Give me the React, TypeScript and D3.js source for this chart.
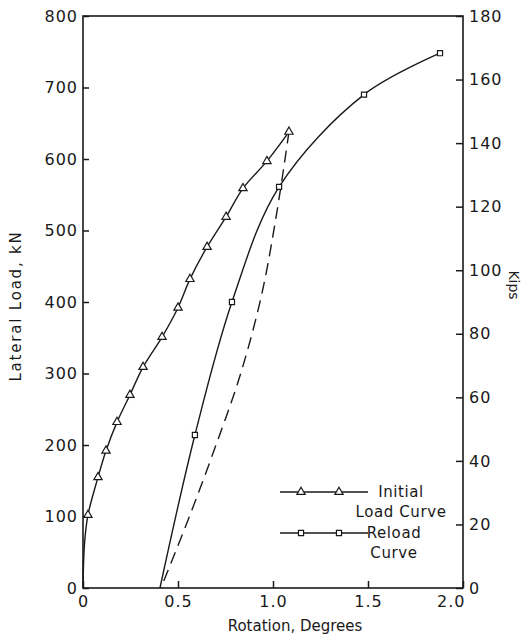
import React, { useEffect, useRef } from "react";
import * as d3 from "d3";

const WIDTH = 526;
const HEIGHT = 639;

// rotation (degrees) / lateral load (kN)
const initialRotation = [0, 0.008, 0.026, 0.079, 0.121, 0.179, 0.247, 0.316, 0.416, 0.5, 0.563, 0.653, 0.753, 0.842, 0.968, 1.084];
const initialLoad = [0, 62, 102, 155, 192, 232, 270, 309, 351, 392, 432, 477, 519, 559, 597, 638];
// the first two points of the initial curve carry no marker
const initialUnmarked = 2;

const reloadRotation = [0.405, 0.589, 0.784, 1.032, 1.479, 1.879];
const reloadLoad = [0, 214, 400, 561, 690, 748];
const reloadUnmarked = 1;

// dashed unloading branch, from the peak back to the axis
const unloadRotation = [1.084, 1.02, 0.94, 0.83, 0.7, 0.56, 0.41];
const unloadLoad = [638, 525, 410, 300, 200, 100, 0];

const rotationTicks = [0, 0.5, 1.0, 1.5, 2.0];
const loadTicks = [0, 100, 200, 300, 400, 500, 600, 700, 800];
const kipsTicks = [0, 20, 40, 60, 80, 100, 120, 140, 160, 180];

const ink = "#1a1a1a";
const font = "'DejaVu Sans', Verdana, sans-serif";

export default function App() {
  const ref = useRef<SVGSVGElement>(null);

  useEffect(() => {
    const svg = d3.select(ref.current);
    svg.selectAll("*").remove();

    const x = d3.scaleLinear().domain([0, 2]).range([83, 463]);
    const y = d3.scaleLinear().domain([0, 800]).range([588, 16]);
    const yKips = d3.scaleLinear().domain([0, 180]).range([588, 16]);

    const styleAxis = (g: any) => {
      g.select(".domain").remove();
      g.attr("font-family", font);
      g.selectAll(".tick line").attr("stroke", ink).attr("stroke-width", 1.5);
      g.selectAll(".tick text")
        .attr("fill", ink)
        .style("font-size", "16px")
        .style("letter-spacing", "1px");
    };

    // Left axis (kN)
    svg
      .append("g")
      .attr("transform", "translate(83,0)")
      .call(d3.axisLeft(y).tickValues(loadTicks).tickSizeInner(-6).tickSizeOuter(0).tickPadding(5))
      .call(styleAxis);

    // Right axis (kips)
    svg
      .append("g")
      .attr("transform", "translate(463,0)")
      .call(d3.axisRight(yKips).tickValues(kipsTicks).tickSizeInner(-7).tickSizeOuter(0).tickPadding(6))
      .call(styleAxis);

    // Bottom axis
    const bottom = svg
      .append("g")
      .attr("transform", "translate(0,588)")
      .call(
        d3
          .axisBottom(x)
          .tickValues(rotationTicks)
          .tickFormat((d: any) => (d === 0 ? "0" : d3.format(".1f")(d)))
          .tickSizeInner(-7)
          .tickSizeOuter(0)
          .tickPadding(8)
      )
      .call(styleAxis);
    bottom
      .selectAll(".tick text")
      .filter((d: any) => d === 2)
      .attr("text-anchor", "end")
      .attr("dx", 2);

    // Frame
    svg
      .append("rect")
      .attr("x", x(0))
      .attr("y", y(800))
      .attr("width", x(2) - x(0))
      .attr("height", y(0) - y(800))
      .attr("fill", "none")
      .attr("stroke", ink)
      .attr("stroke-width", 1.6);

    const line = d3
      .line<[number, number]>()
      .x((d) => x(d[0]))
      .y((d) => y(d[1]))
      .curve(d3.curveCatmullRom.alpha(0.5));

    const initialPts = initialRotation.map((v, i) => [v, initialLoad[i]] as [number, number]);
    const reloadPts = reloadRotation.map((v, i) => [v, reloadLoad[i]] as [number, number]);
    const unloadPts = unloadRotation.map((v, i) => [v, unloadLoad[i]] as [number, number]);

    svg
      .append("path")
      .datum(unloadPts)
      .attr("fill", "none")
      .attr("stroke", ink)
      .attr("stroke-width", 1.4)
      .attr("stroke-dasharray", "12,7")
      .attr("d", line);

    svg
      .append("path")
      .datum(initialPts)
      .attr("fill", "none")
      .attr("stroke", ink)
      .attr("stroke-width", 1.4)
      .attr("d", line);

    svg
      .append("path")
      .datum(reloadPts)
      .attr("fill", "none")
      .attr("stroke", ink)
      .attr("stroke-width", 1.4)
      .attr("d", line);

    const tri = d3.symbol().type(d3.symbolTriangle).size(30);
    const sq = d3.symbol().type(d3.symbolSquare).size(26);

    svg
      .append("g")
      .selectAll("path")
      .data(initialPts.slice(initialUnmarked))
      .join("path")
      .attr("transform", (d) => `translate(${x(d[0])},${y(d[1])})`)
      .attr("d", tri)
      .attr("fill", "#fff")
      .attr("stroke", ink)
      .attr("stroke-width", 1.2);

    svg
      .append("g")
      .selectAll("path")
      .data(reloadPts.slice(reloadUnmarked))
      .join("path")
      .attr("transform", (d) => `translate(${x(d[0])},${y(d[1])})`)
      .attr("d", sq)
      .attr("fill", "#fff")
      .attr("stroke", ink)
      .attr("stroke-width", 1.2);

    // Legend
    const legend = svg.append("g").attr("font-family", font).attr("fill", ink).style("font-size", "15px");
    const rows = [
      { y: 492, symbol: tri, lines: ["Initial", "Load Curve"], cx: 401 },
      { y: 533, symbol: sq, lines: ["Reload", "Curve"], cx: 394 },
    ];
    rows.forEach((r) => {
      legend
        .append("line")
        .attr("x1", 280)
        .attr("x2", 368)
        .attr("y1", r.y)
        .attr("y2", r.y)
        .attr("stroke", ink)
        .attr("stroke-width", 1.4);
      [301, 339].forEach((sx) => {
        legend
          .append("path")
          .attr("transform", `translate(${sx},${r.y})`)
          .attr("d", r.symbol)
          .attr("fill", "#fff")
          .attr("stroke", ink)
          .attr("stroke-width", 1.2);
      });
      r.lines.forEach((t, i) => {
        legend
          .append("text")
          .attr("x", r.cx)
          .attr("y", r.y + 5 + i * 20)
          .attr("text-anchor", "middle")
          .style("letter-spacing", "0.6px")
          .text(t);
      });
    });

    // Axis titles
    svg
      .append("text")
      .attr("transform", "translate(295,631)")
      .attr("text-anchor", "middle")
      .attr("font-family", font)
      .attr("fill", ink)
      .style("font-size", "15px")
      .text("Rotation, Degrees");

    svg
      .append("text")
      .attr("transform", "translate(21,306) rotate(-90)")
      .attr("text-anchor", "middle")
      .attr("font-family", font)
      .attr("fill", ink)
      .style("font-size", "15px")
      .style("letter-spacing", "1.8px")
      .text("Lateral Load, kN");

    svg
      .append("text")
      .attr("transform", "translate(509,285) rotate(90)")
      .attr("text-anchor", "middle")
      .attr("font-family", font)
      .attr("fill", ink)
      .style("font-size", "14px")
      .text("Kips");
  }, []);

  return (
    <svg
      ref={ref}
      width={WIDTH}
      height={HEIGHT}
      style={{ position: "absolute", left: 0, top: 0, background: "#fff" }}
    />
  );
}
